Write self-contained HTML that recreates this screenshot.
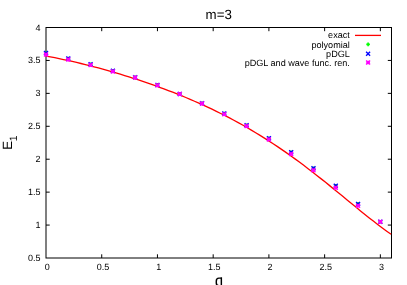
<!DOCTYPE html>
<html><head><meta charset="utf-8"><style>
html,body{margin:0;padding:0;background:#fff;}
svg{display:block;will-change:transform;text-rendering:geometricPrecision;font-family:"Liberation Sans",sans-serif;}
</style></head><body>
<svg width="407" height="285" viewBox="0 0 407 285">
<rect width="407" height="285" fill="#fff"/>
<path d="M101.73,258.0v-3.7M101.73,27.5v3.7M157.45,258.0v-3.7M157.45,27.5v3.7M213.18,258.0v-3.7M213.18,27.5v3.7M268.90,258.0v-3.7M268.90,27.5v3.7M324.63,258.0v-3.7M324.63,27.5v3.7M380.35,258.0v-3.7M380.35,27.5v3.7M46.0,225.07h3.7M391.5,225.07h-3.7M46.0,192.14h3.7M391.5,192.14h-3.7M46.0,159.21h3.7M391.5,159.21h-3.7M46.0,126.29h3.7M391.5,126.29h-3.7M46.0,93.36h3.7M391.5,93.36h-3.7M46.0,60.43h3.7M391.5,60.43h-3.7" stroke="#000" stroke-width="1" fill="none"/>
<rect x="46.0" y="27.5" width="345.5" height="230.5" fill="none" stroke="#000" stroke-width="1"/>
<path d="M46.00,56.03 L50.37,56.86 L54.74,57.71 L59.11,58.60 L63.47,59.52 L67.84,60.47 L72.21,61.45 L76.58,62.46 L80.95,63.50 L85.32,64.57 L89.68,65.67 L94.05,66.81 L98.42,67.97 L102.79,69.15 L107.16,70.37 L111.53,71.62 L115.89,72.90 L120.26,74.20 L124.63,75.53 L129.00,76.90 L133.37,78.29 L137.74,79.71 L142.10,81.17 L146.47,82.65 L150.84,84.16 L155.21,85.71 L159.58,87.29 L163.95,88.90 L168.31,90.55 L172.68,92.23 L177.05,93.95 L181.42,95.71 L185.79,97.51 L190.16,99.35 L194.52,101.23 L198.89,103.15 L203.26,105.12 L207.63,107.13 L212.00,109.19 L216.37,111.30 L220.73,113.46 L225.10,115.67 L229.47,117.93 L233.84,120.25 L238.21,122.62 L242.58,125.05 L246.94,127.54 L251.31,130.08 L255.68,132.69 L260.05,135.36 L264.42,138.08 L268.79,140.87 L273.15,143.72 L277.52,146.63 L281.89,149.61 L286.26,152.64 L290.63,155.73 L295.00,158.88 L299.36,162.08 L303.73,165.34 L308.10,168.66 L312.47,172.02 L316.84,175.43 L321.21,178.87 L325.57,182.36 L329.94,185.88 L334.31,189.43 L338.68,193.00 L343.05,196.58 L347.42,200.17 L351.78,203.76 L356.15,207.33 L360.52,210.89 L364.89,214.42 L369.26,217.91 L373.63,221.34 L377.99,224.71 L382.36,227.99 L386.73,231.18 L391.10,234.25" fill="none" stroke="#ff0000" stroke-width="1.3" stroke-linejoin="round"/>
<path d="M355,35.4H381" stroke="#ff0000" stroke-width="1.3"/>
<g fill="none" stroke-width="1.6">
<path d="M44.20,53.10H47.80M46.00,51.30V54.90" stroke="#00ff00"/>
<path d="M66.49,58.60H70.09M68.29,56.80V60.40" stroke="#00ff00"/>
<path d="M88.78,64.20H92.38M90.58,62.40V66.00" stroke="#00ff00"/>
<path d="M111.07,70.80H114.67M112.87,69.00V72.60" stroke="#00ff00"/>
<path d="M133.36,77.20H136.96M135.16,75.40V79.00" stroke="#00ff00"/>
<path d="M155.65,84.90H159.25M157.45,83.10V86.70" stroke="#00ff00"/>
<path d="M177.94,93.90H181.54M179.74,92.10V95.70" stroke="#00ff00"/>
<path d="M200.23,103.30H203.83M202.03,101.50V105.10" stroke="#00ff00"/>
<path d="M222.52,113.60H226.12M224.32,111.80V115.40" stroke="#00ff00"/>
<path d="M244.81,125.20H248.41M246.61,123.40V127.00" stroke="#00ff00"/>
<path d="M267.10,138.20H270.70M268.90,136.40V140.00" stroke="#00ff00"/>
<path d="M289.39,152.30H292.99M291.19,150.50V154.10" stroke="#00ff00"/>
<path d="M311.68,168.30H315.28M313.48,166.50V170.10" stroke="#00ff00"/>
<path d="M333.97,185.80H337.57M335.77,184.00V187.60" stroke="#00ff00"/>
<path d="M356.26,203.90H359.86M358.06,202.10V205.70" stroke="#00ff00"/>
<path d="M378.55,221.80H382.15M380.35,220.00V223.60" stroke="#00ff00"/>
<path d="M44.00,51.10L48.00,55.10M44.00,55.10L48.00,51.10" stroke="#0000ff" stroke-width="1.35"/>
<path d="M66.29,56.60L70.29,60.60M66.29,60.60L70.29,56.60" stroke="#0000ff" stroke-width="1.35"/>
<path d="M88.58,62.20L92.58,66.20M88.58,66.20L92.58,62.20" stroke="#0000ff" stroke-width="1.35"/>
<path d="M110.87,68.80L114.87,72.80M110.87,72.80L114.87,68.80" stroke="#0000ff" stroke-width="1.35"/>
<path d="M133.16,75.20L137.16,79.20M133.16,79.20L137.16,75.20" stroke="#0000ff" stroke-width="1.35"/>
<path d="M155.45,82.90L159.45,86.90M155.45,86.90L159.45,82.90" stroke="#0000ff" stroke-width="1.35"/>
<path d="M177.74,91.90L181.74,95.90M177.74,95.90L181.74,91.90" stroke="#0000ff" stroke-width="1.35"/>
<path d="M200.03,101.30L204.03,105.30M200.03,105.30L204.03,101.30" stroke="#0000ff" stroke-width="1.35"/>
<path d="M222.32,111.60L226.32,115.60M222.32,115.60L226.32,111.60" stroke="#0000ff" stroke-width="1.35"/>
<path d="M244.61,123.20L248.61,127.20M244.61,127.20L248.61,123.20" stroke="#0000ff" stroke-width="1.35"/>
<path d="M266.90,136.20L270.90,140.20M266.90,140.20L270.90,136.20" stroke="#0000ff" stroke-width="1.35"/>
<path d="M289.19,150.30L293.19,154.30M289.19,154.30L293.19,150.30" stroke="#0000ff" stroke-width="1.35"/>
<path d="M311.48,166.30L315.48,170.30M311.48,170.30L315.48,166.30" stroke="#0000ff" stroke-width="1.35"/>
<path d="M333.77,183.80L337.77,187.80M333.77,187.80L337.77,183.80" stroke="#0000ff" stroke-width="1.35"/>
<path d="M356.06,201.90L360.06,205.90M356.06,205.90L360.06,201.90" stroke="#0000ff" stroke-width="1.35"/>
<path d="M378.35,219.80L382.35,223.80M378.35,223.80L382.35,219.80" stroke="#0000ff" stroke-width="1.35"/>
<path d="M44.20,54.60H47.80M46.00,52.80V56.40" stroke="#ff00ff"/><path d="M44.00,52.60L48.00,56.60M44.00,56.60L48.00,52.60" stroke="#ff00ff" stroke-width="1.35"/>
<path d="M66.49,59.60H70.09M68.29,57.80V61.40" stroke="#ff00ff"/><path d="M66.29,57.60L70.29,61.60M66.29,61.60L70.29,57.60" stroke="#ff00ff" stroke-width="1.35"/>
<path d="M88.78,65.00H92.38M90.58,63.20V66.80" stroke="#ff00ff"/><path d="M88.58,63.00L92.58,67.00M88.58,67.00L92.58,63.00" stroke="#ff00ff" stroke-width="1.35"/>
<path d="M111.07,71.40H114.67M112.87,69.60V73.20" stroke="#ff00ff"/><path d="M110.87,69.40L114.87,73.40M110.87,73.40L114.87,69.40" stroke="#ff00ff" stroke-width="1.35"/>
<path d="M133.36,77.60H136.96M135.16,75.80V79.40" stroke="#ff00ff"/><path d="M133.16,75.60L137.16,79.60M133.16,79.60L137.16,75.60" stroke="#ff00ff" stroke-width="1.35"/>
<path d="M155.65,85.20H159.25M157.45,83.40V87.00" stroke="#ff00ff"/><path d="M155.45,83.20L159.45,87.20M155.45,87.20L159.45,83.20" stroke="#ff00ff" stroke-width="1.35"/>
<path d="M177.94,94.10H181.54M179.74,92.30V95.90" stroke="#ff00ff"/><path d="M177.74,92.10L181.74,96.10M177.74,96.10L181.74,92.10" stroke="#ff00ff" stroke-width="1.35"/>
<path d="M200.23,103.60H203.83M202.03,101.80V105.40" stroke="#ff00ff"/><path d="M200.03,101.60L204.03,105.60M200.03,105.60L204.03,101.60" stroke="#ff00ff" stroke-width="1.35"/>
<path d="M222.52,114.20H226.12M224.32,112.40V116.00" stroke="#ff00ff"/><path d="M222.32,112.20L226.32,116.20M222.32,116.20L226.32,112.20" stroke="#ff00ff" stroke-width="1.35"/>
<path d="M244.81,126.10H248.41M246.61,124.30V127.90" stroke="#ff00ff"/><path d="M244.61,124.10L248.61,128.10M244.61,128.10L248.61,124.10" stroke="#ff00ff" stroke-width="1.35"/>
<path d="M267.10,139.40H270.70M268.90,137.60V141.20" stroke="#ff00ff"/><path d="M266.90,137.40L270.90,141.40M266.90,141.40L270.90,137.40" stroke="#ff00ff" stroke-width="1.35"/>
<path d="M289.39,154.00H292.99M291.19,152.20V155.80" stroke="#ff00ff"/><path d="M289.19,152.00L293.19,156.00M289.19,156.00L293.19,152.00" stroke="#ff00ff" stroke-width="1.35"/>
<path d="M311.68,170.20H315.28M313.48,168.40V172.00" stroke="#ff00ff"/><path d="M311.48,168.20L315.48,172.20M311.48,172.20L315.48,168.20" stroke="#ff00ff" stroke-width="1.35"/>
<path d="M333.97,187.70H337.57M335.77,185.90V189.50" stroke="#ff00ff"/><path d="M333.77,185.70L337.77,189.70M333.77,189.70L337.77,185.70" stroke="#ff00ff" stroke-width="1.35"/>
<path d="M356.26,205.80H359.86M358.06,204.00V207.60" stroke="#ff00ff"/><path d="M356.06,203.80L360.06,207.80M356.06,207.80L360.06,203.80" stroke="#ff00ff" stroke-width="1.35"/>
<path d="M378.55,221.80H382.15M380.35,220.00V223.60" stroke="#ff00ff"/><path d="M378.35,219.80L382.35,223.80M378.35,223.80L382.35,219.80" stroke="#ff00ff" stroke-width="1.35"/>
</g>
<g fill="none" stroke-width="1.6">
<path d="M366.30,44.40H369.90M368.10,42.60V46.20" stroke="#00ff00"/>
<path d="M366.10,51.80L370.10,55.80M366.10,55.80L370.10,51.80" stroke="#0000ff" stroke-width="1.35"/>
<path d="M366.30,62.50H369.90M368.10,60.70V64.30" stroke="#ff00ff"/><path d="M366.10,60.50L370.10,64.50M366.10,64.50L370.10,60.50" stroke="#ff00ff" stroke-width="1.35"/>
</g>
<g font-size="9px" fill="#000">
<text x="47.20" y="270.3" text-anchor="middle">0</text><text x="102.93" y="270.3" text-anchor="middle">0.5</text><text x="158.65" y="270.3" text-anchor="middle">1</text><text x="214.38" y="270.3" text-anchor="middle">1.5</text><text x="270.10" y="270.3" text-anchor="middle">2</text><text x="325.83" y="270.3" text-anchor="middle">2.5</text><text x="381.55" y="270.3" text-anchor="middle">3</text>
<text x="40.4" y="261.00" text-anchor="end">0.5</text><text x="40.4" y="228.07" text-anchor="end">1</text><text x="40.4" y="195.14" text-anchor="end">1.5</text><text x="40.4" y="162.21" text-anchor="end">2</text><text x="40.4" y="129.29" text-anchor="end">2.5</text><text x="40.4" y="96.36" text-anchor="end">3</text><text x="40.4" y="63.43" text-anchor="end">3.5</text><text x="40.4" y="30.50" text-anchor="end">4</text>
</g>
<g font-size="9.09px" fill="#000">
<text x="349.8" y="38.3" text-anchor="end">exact</text>
<text x="349.8" y="47.5" text-anchor="end">polyomial</text>
<text x="349.8" y="56.7" text-anchor="end">pDGL</text>
<text x="349.8" y="65.9" text-anchor="end">pDGL and wave func. ren.</text>
</g>
<text x="218.7" y="18.7" font-size="13.3px" text-anchor="middle">m=3</text>
<path d="M221.35,277.3V286M221.35,278.1H218.9Q216.3,278.1 216.3,281V283Q216.3,285.7 218.9,285.7H221.35" fill="none" stroke="#000" stroke-width="1.45"/>
<g transform="translate(11.9,149.7) rotate(-90)"><text x="0" y="0" font-size="13.4px">E</text></g>
<g transform="translate(16.7,141.3) rotate(-90)"><text x="0" y="0" font-size="10.6px">1</text></g>
</svg>
</body></html>
